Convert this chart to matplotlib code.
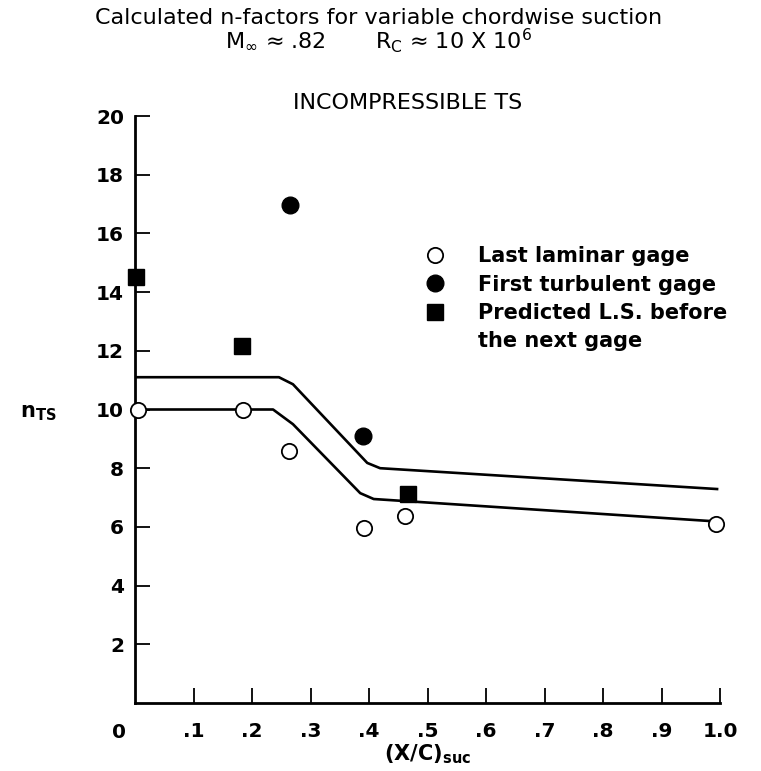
import numpy as np
import matplotlib
matplotlib.use("Agg")
import matplotlib.pyplot as plt
from matplotlib.lines import Line2D

plt.rcParams['font.family'] = ['DejaVu Sans']
plt.rcParams['mathtext.default'] = 'regular'

# Data
laminar_x = [0.005, 0.184, 0.263, 0.391, 0.462, 0.993]
laminar_y = [10.0, 10.0, 8.6, 5.96, 6.37, 6.1]

turbulent_x = [0.265, 0.389]
turbulent_y = [16.97, 9.1]

predicted_x = [0.002, 0.183, 0.466]
predicted_y = [14.5, 12.16, 7.12]

# Curves (vertices, corners are rounded)
upper_x = [0.0, 0.246, 0.27, 0.397, 0.419, 0.995]
upper_y = [11.1, 11.1, 10.86, 8.18, 8.0, 7.29]
lower_x = [0.0, 0.236, 0.27, 0.385, 0.408, 0.983]
lower_y = [10.0, 10.0, 9.5, 7.15, 6.95, 6.2]

xticks = [0.1, 0.2, 0.3, 0.4, 0.5, 0.6, 0.7, 0.8, 0.9, 1.0]
xticklabels = ['.1', '.2', '.3', '.4', '.5', '.6', '.7', '.8', '.9', '1.0']
yticks = [2, 4, 6, 8, 10, 12, 14, 16, 18, 20]

fig = plt.figure(figsize=(7.61, 7.71), dpi=100)
ax = fig.add_axes([135 / 761, 1 - 703 / 771, 585 / 761, 587 / 771])

ax.plot(upper_x, upper_y, color='black', lw=1.9, solid_joinstyle='round')
ax.plot(lower_x, lower_y, color='black', lw=1.9, solid_joinstyle='round')

ax.plot(laminar_x, laminar_y, 'o', ms=11, mfc='white', mec='black', mew=1.3,
        zorder=5, clip_on=False)
ax.plot(turbulent_x, turbulent_y, 'o', ms=12, color='black', zorder=5, clip_on=False)
ax.plot(predicted_x, predicted_y, 's', ms=11, color='black', zorder=5, clip_on=False)

ax.set_xlim(0, 1.0)
ax.set_ylim(0, 20)
ax.spines['top'].set_visible(False)
ax.spines['right'].set_visible(False)
ax.spines['left'].set_linewidth(2)
ax.spines['bottom'].set_linewidth(2)

ax.set_xticks(xticks)
ax.set_xticklabels(xticklabels)
ax.set_yticks(yticks)
ax.tick_params(direction='in', length=11, width=1.3, labelsize=14.5)
ax.tick_params(axis='x', pad=14)
ax.tick_params(axis='y', pad=8)
for lab in ax.get_xticklabels() + ax.get_yticklabels():
    lab.set_fontweight('bold')

ax.text(-0.027, -0.051, '0', transform=ax.transAxes, fontsize=14.5, fontweight='bold',
        ha='center', va='center')

ax.set_xlabel('(X/C)$_{suc}$', fontsize=15, fontweight='bold', labelpad=1)
ax.set_ylabel('n$_{TS}$', fontsize=15, fontweight='bold', rotation=0, va='center', ha='center')
ax.yaxis.set_label_coords(-0.165, 0.494)

fig.text(379 / 761, 1 - 18 / 771, 'Calculated n-factors for variable chordwise suction',
         fontsize=16, ha='center', va='center')
fig.text(379 / 761, 1 - 41 / 771, r'M$_\infty$ ≈ .82       R$_C$ ≈ 10 X 10$^6$',
         fontsize=16, ha='center', va='center')
fig.text(408 / 761, 1 - 103 / 771, 'INCOMPRESSIBLE TS', fontsize=16, ha='center', va='center')

handles = [
    Line2D([], [], ls='none', marker='o', ms=11, mfc='white', mec='black', mew=1.3),
    Line2D([], [], ls='none', marker='o', ms=12, color='black'),
    Line2D([], [], ls='none', marker='s', ms=11, color='black'),
    Line2D([], [], ls='none'),
]
labels = ['Last laminar gage', 'First turbulent gage', 'Predicted L.S. before', 'the next gage']
leg = ax.legend(handles, labels, loc='upper left', bbox_to_anchor=(418 / 761, 1 - 236 / 771),
                bbox_transform=fig.transFigure, frameon=False, fontsize=15,
                handlelength=0.6, handletextpad=1.8, labelspacing=0.4, borderpad=0)
for t in leg.get_texts():
    t.set_fontweight('bold')

fig.savefig('out.png', dpi=100)
